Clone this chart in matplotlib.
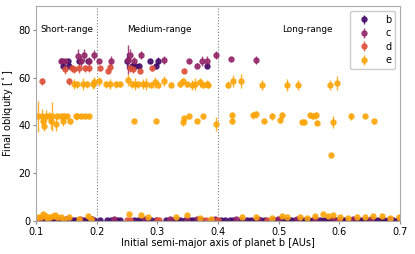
import matplotlib
matplotlib.use("Agg")
import matplotlib.pyplot as plt
import numpy as np

# colours (inferno 0.2/0.4/0.6/0.8)
colors = {"b": "#420a68", "c": "#932667", "d": "#dd513a", "e": "#fca50a"}

# high-obliquity runs
b_x = [0.143, 0.145, 0.153, 0.154, 0.171, 0.186, 0.250, 0.258, 0.263, 0.270, 0.288, 0.298, 0.301, 0.381]
b_y = [67, 65, 67, 65, 67, 67, 67, 65, 65, 65, 67, 65, 67, 65]
b_err = [1.0, 1.5, 1.0, 1.0, 1.0, 1.0, 3.5, 1.5, 1.0, 1.0, 1.0, 1.0, 1.5, 1.0]

c_x = [0.141, 0.148, 0.169, 0.174, 0.179, 0.187, 0.196, 0.204, 0.224, 0.252, 0.255, 0.262,
       0.273, 0.311, 0.352, 0.365, 0.374, 0.382, 0.397, 0.422, 0.463]
c_y = [67, 67, 69, 67, 69.5, 67, 69.5, 67, 67, 67.5, 69.5, 67, 69.5, 67.4, 67, 65, 67, 67, 69.5, 67.8, 67.4]
c_err = [1.0, 1.0, 3.0, 2.0, 2.5, 1.5, 2.0, 1.0, 2.0, 6.0, 2.5, 1.5, 1.5, 1.5, 1.0, 1.0, 2.0, 2.0, 1.5, 1.0, 1.5]

d_x = [0.110, 0.148, 0.154, 0.159, 0.163, 0.171, 0.181, 0.187, 0.205, 0.219, 0.222,
       0.255, 0.260, 0.271, 0.291, 0.344]
d_y = [58.5, 63.5, 58.5, 64, 63.5, 64, 64, 64, 64, 63, 64.5, 64, 63.5, 63, 64, 63]
d_err = [1.5, 2.0, 1.5, 1.5, 1.5, 2.0, 1.5, 1.5, 1.0, 1.0, 1.5, 1.5, 1.5, 1.0, 1.0, 1.0]

e_x = [0.163, 0.168, 0.177, 0.184, 0.194, 0.196, 0.204, 0.215, 0.222, 0.232, 0.238, 0.252,
       0.258, 0.263, 0.268, 0.276, 0.281, 0.290, 0.296, 0.301, 0.311, 0.323, 0.337, 0.342,
       0.349, 0.357, 0.362, 0.370, 0.375, 0.382, 0.383, 0.416, 0.425, 0.438, 0.473, 0.514,
       0.532, 0.585, 0.596,
       0.103, 0.110, 0.112, 0.113, 0.116, 0.121, 0.125, 0.126, 0.133, 0.135, 0.141, 0.145,
       0.146, 0.151, 0.156, 0.166, 0.168, 0.174, 0.181, 0.187, 0.262, 0.298, 0.342, 0.344,
       0.352, 0.365, 0.375, 0.397, 0.423, 0.423, 0.458, 0.463, 0.476, 0.489, 0.502, 0.505,
       0.538, 0.542, 0.552, 0.557, 0.562, 0.563, 0.590, 0.619, 0.642, 0.657, 0.586]
e_y = [57.3, 57.3, 57.3, 57.3, 57.3, 58.0, 58.5, 57.3, 57.3, 57.3, 57.3, 58.9,
       57.3, 57.5, 57.3, 57.3, 57.5, 57.0, 58.0, 57.0, 58.6, 57.0, 57.5, 58.5,
       57.3, 57.0, 57.5, 58.0, 57.0, 57.5, 57.0, 57.0, 58.5, 58.6, 57.0, 57.0,
       57.0, 57.0, 57.7,
       43.8, 43.8, 41.7, 39.6, 43.8, 43.8, 41.7, 43.8, 40.8, 43.8, 43.8, 41.7,
       43.8, 43.8, 41.7, 43.8, 43.8, 43.8, 43.8, 43.8, 42.0, 42.0, 41.3, 43.0,
       43.8, 42.0, 43.8, 40.5, 44.2, 41.7, 44.2, 44.6, 41.7, 43.8, 42.5, 44.2,
       41.6, 41.6, 44.2, 43.8, 44.2, 41.2, 41.3, 43.8, 43.8, 41.7, 27.8]
e_err = [2.0, 1.5, 2.5, 1.5, 2.0, 2.5, 2.0, 1.5, 2.0, 1.5, 1.0, 2.5,
         1.5, 2.5, 1.5, 2.0, 2.5, 1.0, 2.5, 1.5, 2.0, 1.0, 1.5, 1.5,
         1.0, 2.0, 2.5, 2.0, 1.0, 1.5, 1.5, 1.5, 2.5, 3.0, 2.0, 2.5,
         2.0, 2.0, 3.0,
         6.5, 3.0, 2.0, 2.0, 2.5, 2.0, 3.0, 6.0, 3.0, 1.5, 1.5, 2.0,
         1.5, 1.0, 1.0, 1.5, 1.0, 1.0, 1.0, 1.0, 0.5, 0.5, 1.5, 1.0,
         1.0, 0.5, 1.0, 3.0, 1.5, 1.0, 1.5, 1.5, 0.8, 1.5, 1.5, 1.5,
         0.8, 0.8, 1.0, 1.0, 1.5, 1.0, 2.5, 1.5, 0.5, 1.0, 0.5]

# near-zero runs
low_x = [0.102, 0.106, 0.110, 0.114, 0.118, 0.122, 0.126, 0.130, 0.134, 0.138, 0.142,
         0.146, 0.150, 0.155, 0.160, 0.165, 0.170, 0.175, 0.180, 0.185, 0.190, 0.195,
         0.205, 0.217, 0.224, 0.233, 0.238, 0.262, 0.268, 0.275, 0.282, 0.290, 0.297,
         0.314, 0.326, 0.332, 0.338, 0.345, 0.352, 0.357, 0.362, 0.368, 0.373, 0.388,
         0.405, 0.412, 0.420, 0.425, 0.438, 0.447, 0.455, 0.462, 0.470, 0.478, 0.490,
         0.496, 0.502, 0.508, 0.514, 0.520, 0.526, 0.532, 0.538, 0.544, 0.550, 0.556,
         0.562, 0.568, 0.574, 0.580, 0.586, 0.592, 0.598, 0.604, 0.610, 0.620, 0.626,
         0.632, 0.638, 0.644, 0.650, 0.656, 0.662, 0.668, 0.674, 0.680, 0.688, 0.696]
b_low = [0.5, 0.6, 0.4, 0.5, 0.7, 0.4, 0.6, 0.5, 0.5, 0.4, 0.6,
         0.5, 0.7, 0.4, 0.5, 0.6, 0.5, 0.4, 0.6, 0.5, 0.7, 0.5,
         0.4, 0.6, 0.5, 0.4, 0.5, 0.6, 0.5, 0.4, 0.6, 0.5, 0.5,
         0.6, 0.4, 0.5, 0.6, 0.5, 0.4, 0.5, 0.6, 0.5, 0.4, 0.6,
         0.5, 0.4, 0.6, 0.5, 0.4, 0.5, 0.6, 0.5, 0.4, 0.5, 0.6,
         0.5, 0.7, 0.4, 0.5, 0.6, 0.5, 0.4, 0.6, 0.5, 0.5, 0.4,
         0.6, 0.5, 0.4, 0.6, 0.5, 0.5, 0.4, 0.6, 0.5, 0.5, 0.4,
         0.6, 0.5, 0.4, 0.5, 0.6, 0.5, 0.4, 0.6, 0.5, 0.5, 0.4]
c_low_x = [0.104, 0.120, 0.136, 0.152, 0.172, 0.192, 0.228, 0.280, 0.320, 0.348, 0.366,
           0.395, 0.430, 0.465, 0.498, 0.530, 0.560, 0.590, 0.622, 0.652, 0.684]
c_low = [0.8, 0.7, 0.9, 0.7, 0.8, 0.9, 0.7, 0.8, 0.7, 0.9, 0.8,
         0.7, 0.8, 0.9, 0.7, 0.8, 0.9, 0.7, 0.8, 0.9, 0.7]
d_low_x = [0.100, 0.250, 0.255, 0.300, 0.302, 0.380, 0.400, 0.480, 0.600, 0.700]
d_low = [0.6, 0.5, 0.6, 0.5, 0.6, 0.5, 0.5, 0.6, 0.5, 0.6]

e_low_x = [0.103, 0.108, 0.112, 0.116, 0.118, 0.123, 0.128, 0.131, 0.135, 0.141, 0.146,
           0.154, 0.170, 0.186, 0.190, 0.253, 0.273, 0.285, 0.330, 0.349, 0.370, 0.388,
           0.440, 0.463, 0.489, 0.505, 0.514, 0.535, 0.547, 0.560, 0.573, 0.581, 0.590,
           0.601, 0.614, 0.629, 0.642, 0.655, 0.670, 0.683, 0.698]
e_low = [1.5, 1.7, 3.0, 2.0, 1.2, 1.7, 2.2, 2.5, 1.5, 1.7, 1.0,
         1.7, 0.8, 2.2, 1.0, 3.0, 2.5, 1.7, 1.7, 2.5, 1.3, 1.0,
         1.8, 1.8, 1.3, 2.0, 1.5, 1.8, 1.3, 2.0, 3.0, 2.0, 2.5,
         1.8, 1.3, 1.5, 1.5, 2.0, 2.0, 1.3, 1.5]

region_labels = ["Short-range", "Medium-range", "Long-range"]
region_x = [0.151, 0.303, 0.547]
region_y = 80
borders = [0.2, 0.4]

plt.rcParams['font.size'] = 7
fig = plt.figure(figsize=(4.15, 2.54), dpi=100)
ax = fig.add_axes([0.087, 0.130, 0.877, 0.846])

series = [
    ("b", b_x, b_y, b_err, low_x, b_low),
    ("c", c_x, c_y, c_err, c_low_x, c_low),
    ("d", d_x, d_y, d_err, d_low_x, d_low),
    ("e", e_x, e_y, e_err, e_low_x, e_low),
]
for name, x, y, err, lx, ly in series:
    col = colors[name]
    ax.errorbar(x, y, yerr=err, fmt='o', ms=3.6, color=col, ecolor=col,
                elinewidth=1.0, alpha=0.85, label=name)
    ax.errorbar(lx, ly, yerr=0.4, fmt='o', ms=3.6, color=col, ecolor=col,
                elinewidth=1.0, alpha=0.85)

for bx in borders:
    ax.axvline(bx, color='gray', ls=':', lw=0.8)
for lab, tx in zip(region_labels, region_x):
    ax.text(tx, region_y, lab, ha='center', va='center', fontsize=6.4)

ax.set_xlim(0.1, 0.7)
ax.set_ylim(0, 90)
ax.set_xticks([0.1, 0.2, 0.3, 0.4, 0.5, 0.6, 0.7])
ax.set_yticks([0, 20, 40, 60, 80])
ax.set_xlabel('Initial semi-major axis of planet b [AUs]', labelpad=1)
ax.set_ylabel(r'Final obliquity [$^\circ$]', labelpad=2)
for s in ax.spines.values():
    s.set_color('#aaaaaa')
ax.tick_params(length=2.5, width=0.8, color='#888888', pad=1.5)
ax.legend(loc='upper right', fontsize=7, handletextpad=1.2, borderpad=0.4,
          labelspacing=0.35, framealpha=1, edgecolor='#cccccc')

fig.savefig('out.png', dpi=100)
